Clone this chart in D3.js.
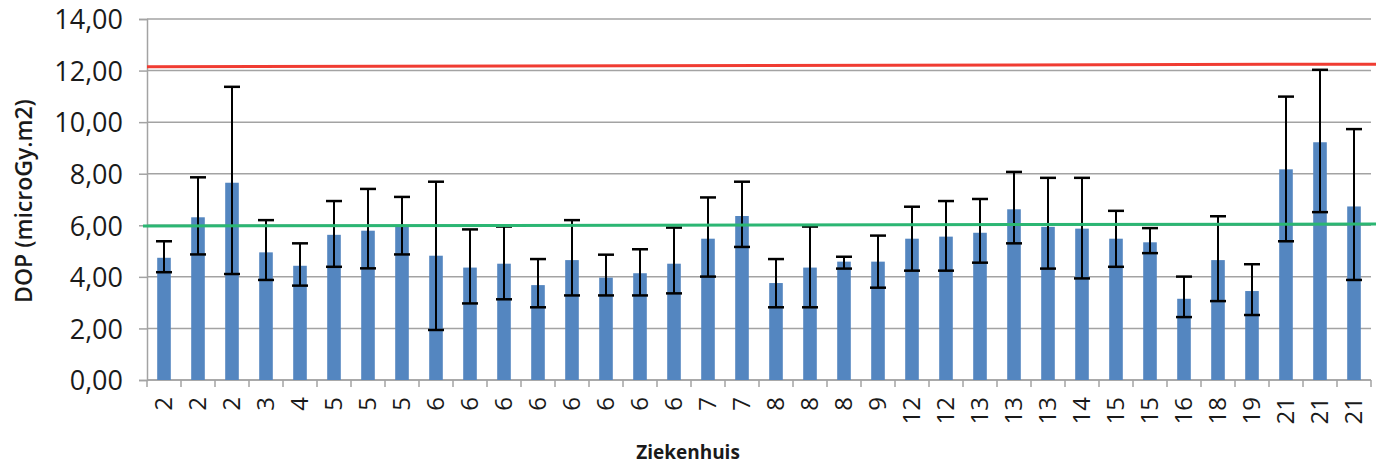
<!DOCTYPE html>
<html>
<head>
<meta charset="utf-8">
<script src="https://cdn.jsdelivr.net/npm/d3@7"></script>
<style>
  body { margin: 0; background: #fff; }
  text { font-family: "Open Sans", sans-serif; fill: #1a1a1a; }
</style>
</head>
<body>
<svg id="chart"></svg>
<script>
// Hospital labels (one per bar)
const hospitals = ["2","2","2","3","4","5","5","5","6","6","6","6","6","6","6","6","7","7","8","8","8","9",
    "12","12","13","13","13","14","15","15","16","18","19","21","21","21"];

// Mean DOP per bar
const dop = [4.74, 6.31, 7.65, 4.95, 4.43, 5.63, 5.79, 5.94, 4.82, 4.36, 4.51, 3.68, 4.65, 3.97, 4.14, 4.51,
    5.48, 6.36, 3.76, 4.36, 4.59, 4.59, 5.48, 5.56, 5.71, 6.62, 5.94, 5.87, 5.48, 5.34, 3.15, 4.65,
    3.45, 8.17, 9.22, 6.73];

// Error bar ends
const errHigh = [5.38, 7.86, 11.37, 6.20, 5.30, 6.94, 7.41, 7.10, 7.69, 5.84, 5.95, 4.69, 6.20, 4.86, 5.07, 5.91,
    7.08, 7.69, 4.69, 5.95, 4.78, 5.60, 6.72, 6.94, 7.02, 8.07, 7.84, 7.84, 6.56, 5.89, 4.01, 6.35,
    4.49, 10.99, 12.03, 9.73];
const errLow = [4.18, 4.87, 4.11, 3.88, 3.66, 4.39, 4.33, 4.87, 1.94, 2.97, 3.13, 2.82, 3.28, 3.28, 3.28, 3.36,
    4.01, 5.16, 2.82, 2.82, 4.32, 3.58, 4.24, 4.24, 4.55, 5.30, 4.32, 3.94, 4.39, 4.92, 2.44, 3.06,
    2.52, 5.38, 6.51, 3.88];

// Reference lines
const refRed = [12.15, 12.25];   // left, right
const refGreen = [5.97, 6.05];   // left, right

const yTicks = [0, 2, 4, 6, 8, 10, 12, 14];

const W = 1383, H = 467;
const margin = {top: 19, right: 12, bottom: 87, left: 147};
const width = W - margin.left - margin.right,
    height = H - margin.top - margin.bottom;

const svg = d3.select("#chart")
    .attr("width", W)
    .attr("height", H);

const g = svg.append("g")
    .attr("transform", `translate(${margin.left},${margin.top})`);

const idx = d3.range(hospitals.length);

const x = d3.scaleBand()
    .domain(idx)
    .range([0, width])
    .paddingInner(0.6)
    .paddingOuter(0.3);

const y = d3.scaleLinear()
    .domain([0, 14])
    .range([height, 0]);

// Gridlines
g.selectAll(".grid")
    .data(yTicks)
    .enter()
    .append("line")
    .attr("x1", 0)
    .attr("x2", width)
    .attr("y1", d => y(d))
    .attr("y2", d => y(d))
    .attr("stroke", "#a3a3a3")
    .attr("stroke-width", 1.5);

// Y axis
const yAxis = g.append("g")
    .call(d3.axisLeft(y).tickValues(yTicks).tickSize(8).tickFormat(d => d3.format(".2f")(d).replace(".", ",")));
yAxis.select(".domain").attr("stroke", "#a3a3a3").attr("stroke-width", 1.5);
yAxis.selectAll(".tick line").attr("stroke", "#a3a3a3").attr("stroke-width", 1.5);
yAxis.selectAll(".tick text")
    .attr("x", -24)
    .attr("dy", "0.36em")
    .style("font-size", "27px")
    .style("fill", "#1a1a1a");

// X axis ticks at band boundaries
const step = x.step();
g.append("line")
    .attr("x1", 0).attr("x2", width)
    .attr("y1", height).attr("y2", height)
    .attr("stroke", "#a3a3a3").attr("stroke-width", 1.5);

g.selectAll(".xtick")
    .data(d3.range(hospitals.length + 1))
    .enter()
    .append("line")
    .attr("x1", i => i * step)
    .attr("x2", i => i * step)
    .attr("y1", height)
    .attr("y2", height + 7)
    .attr("stroke", "#a3a3a3")
    .attr("stroke-width", 1.5);

g.selectAll(".xlabel")
    .data(idx)
    .enter()
    .append("text")
    .attr("text-anchor", "end")
    .attr("transform", i => `translate(${x(i) + x.bandwidth() / 2 + 8},${height + 17}) rotate(-90)`)
    .style("font-size", "24px")
    .text(i => hospitals[i]);

// Bars
g.selectAll(".bar")
    .data(idx)
    .enter()
    .append("rect")
    .attr("x", i => x(i))
    .attr("y", i => y(dop[i]))
    .attr("width", x.bandwidth())
    .attr("height", i => height - y(dop[i]))
    .attr("fill", "#5486c0");

// Error bars
const capW = 16;
const err = g.selectAll(".err")
    .data(idx)
    .enter()
    .append("g")
    .attr("stroke", "#000")
    .attr("stroke-width", 2);

err.append("line")
    .attr("x1", i => x(i) + x.bandwidth() / 2)
    .attr("x2", i => x(i) + x.bandwidth() / 2)
    .attr("y1", i => y(errHigh[i]))
    .attr("y2", i => y(errLow[i]));

err.append("line")
    .attr("x1", i => x(i) + x.bandwidth() / 2 - capW / 2)
    .attr("x2", i => x(i) + x.bandwidth() / 2 + capW / 2)
    .attr("y1", i => y(errHigh[i]))
    .attr("y2", i => y(errHigh[i]))
    .attr("stroke-width", 2.5);

err.append("line")
    .attr("x1", i => x(i) + x.bandwidth() / 2 - capW / 2)
    .attr("x2", i => x(i) + x.bandwidth() / 2 + capW / 2)
    .attr("y1", i => y(errLow[i]))
    .attr("y2", i => y(errLow[i]))
    .attr("stroke-width", 2.5);

// Reference lines
g.append("line")
    .attr("x1", 0).attr("x2", width + 5)
    .attr("y1", y(refRed[0])).attr("y2", y(refRed[1]))
    .attr("stroke", "#f03c32")
    .attr("stroke-width", 3);

g.append("line")
    .attr("x1", -4).attr("x2", width + 5)
    .attr("y1", y(refGreen[0])).attr("y2", y(refGreen[1]))
    .attr("stroke", "#2bb673")
    .attr("stroke-width", 3);

// Axis titles
svg.append("text")
    .attr("text-anchor", "middle")
    .attr("transform", `translate(32, 201) rotate(-90)`)
    .style("font-size", "23px")
    .style("font-weight", "600")
    .text("DOP (microGy.m2)");

svg.append("text")
    .attr("text-anchor", "middle")
    .attr("x", 688)
    .attr("y", 459)
    .style("font-size", "19px")
    .style("font-weight", "700")
    .text("Ziekenhuis");
</script>
</body>
</html>
